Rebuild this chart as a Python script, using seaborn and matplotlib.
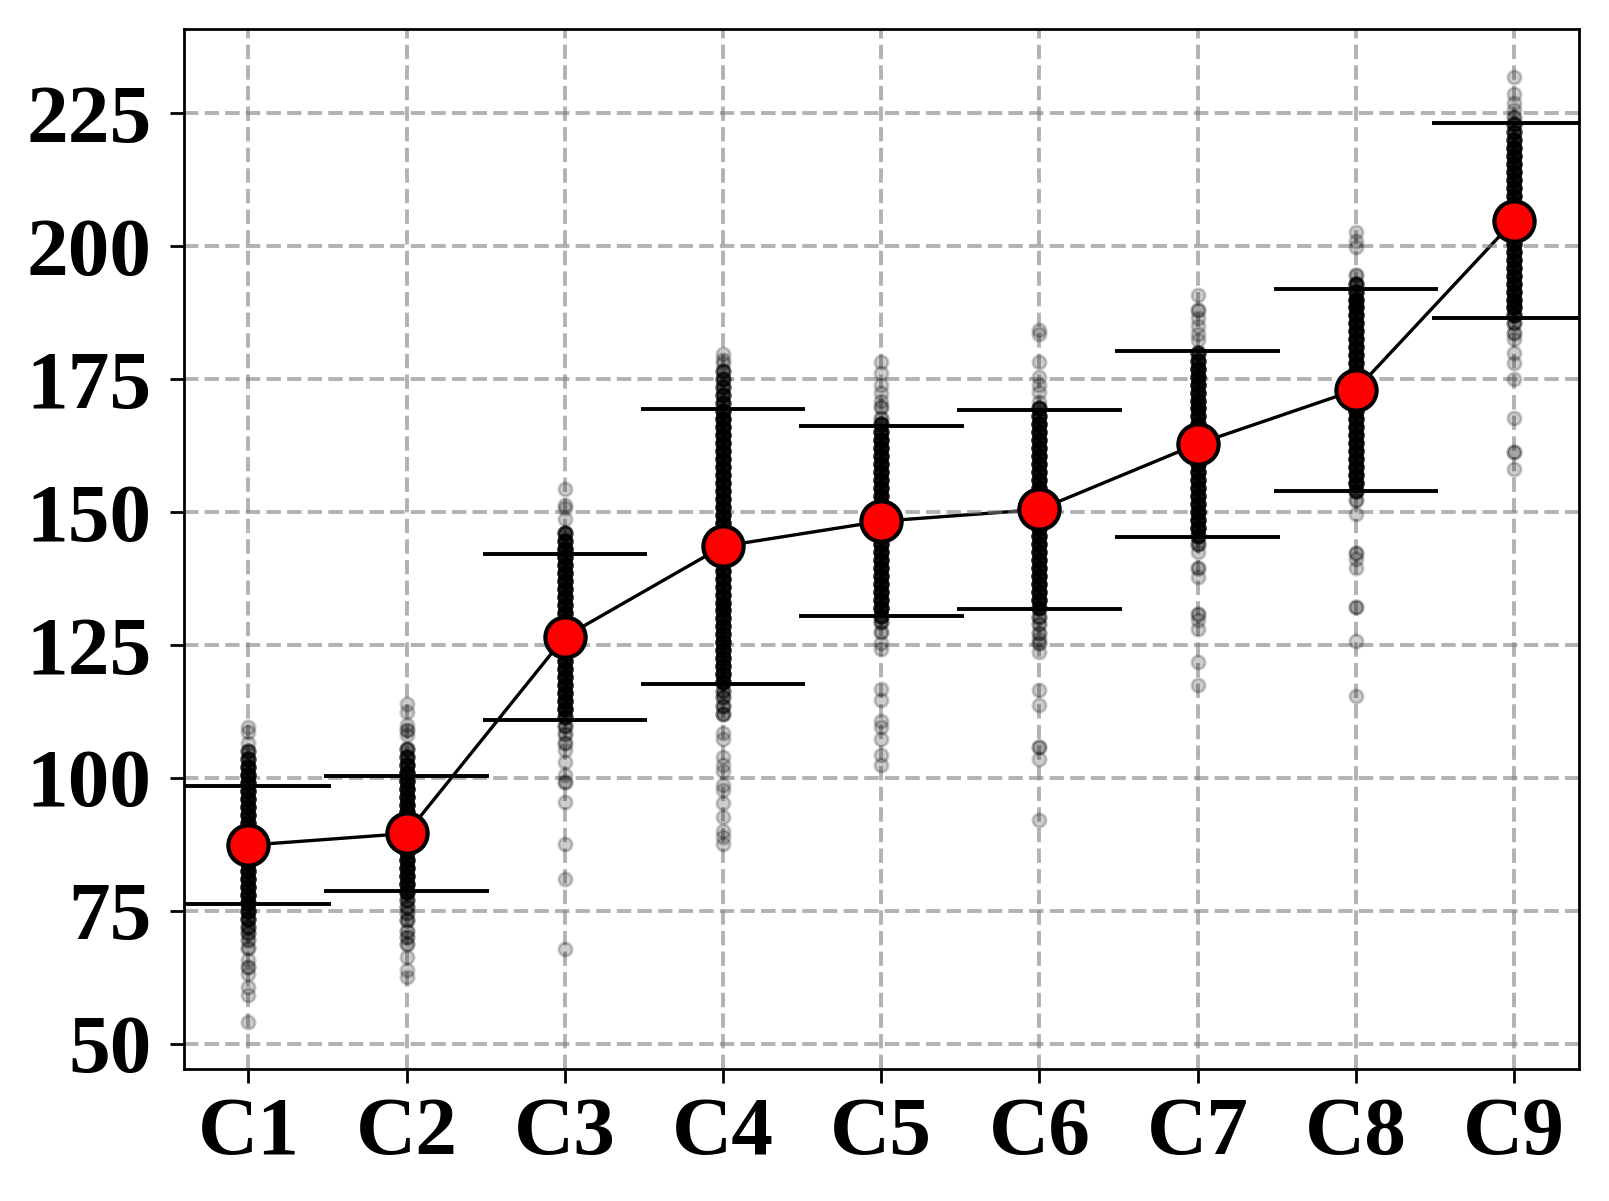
import numpy as np
import pandas as pd
import matplotlib
matplotlib.use("Agg")
import matplotlib.pyplot as plt
import seaborn as sns

# ---------------- data ----------------
categories = ["C1", "C2", "C3", "C4", "C5", "C6", "C7", "C8", "C9"]
means = [87.35, 89.55, 126.55, 143.6, 148.3, 150.5, 162.85, 173.0, 204.85]
stds = [11.05, 10.9, 15.65, 25.85, 17.85, 18.7, 17.5, 19.05, 18.3]
y_ticks = [50, 75, 100, 125, 150, 175, 200, 225]

# observed points per category: value and how many points sit at that value
c1_vals = [54.1, 59.1, 60.6, 63.2, 64.4, 65.7, 68.1, 69.5, 70.8,
           72.0, 73.5, 75.0, 76.5, 78.0, 79.5, 81.0, 82.5, 84.0, 85.5, 87.0, 88.5,
           90.0, 91.5, 93.0, 94.5, 96.0, 97.5, 99.0, 100.5, 102.0, 103.5, 105.0,
           106.5, 108.6, 109.6]
c1_counts = [1, 1, 1, 1, 2, 1, 2, 2, 3,
             4, 6, 8, 10, 10, 10, 10, 10, 10, 10, 10, 10,
             10, 10, 10, 10, 10, 10, 10, 10, 8, 6, 4,
             1, 1, 1]

c2_vals = [62.5, 63.8, 66.3, 68.8, 70.0, 71.3, 73.2, 74.5, 75.7, 77.0,
           78.5, 80.0, 81.5, 83.0, 84.5, 86.0, 87.5, 89.0, 90.5, 92.0, 93.5,
           95.0, 96.5, 98.0, 99.5, 101.0, 102.5, 104.0, 105.5,
           108.0, 109.0, 109.9, 112.4, 114.0]
c2_counts = [1, 1, 1, 2, 2, 2, 3, 2, 3, 4,
             8, 10, 10, 10, 10, 10, 10, 10, 10, 10, 10,
             10, 10, 10, 10, 10, 8, 6, 4,
             1, 2, 1, 1, 1]

c3_vals = [67.9, 80.9, 87.6, 95.5, 99.2, 100.5, 103.0, 105.2, 106.5, 108.3, 109.8,
           111.5, 113.0, 114.5, 116.0, 117.5, 119.0, 120.5, 122.0, 123.5, 125.0,
           126.5, 128.0, 129.5, 131.0, 132.5, 134.0, 135.5, 137.0, 138.5, 140.0,
           141.5, 143.0, 144.5, 146.0,
           148.8, 150.7, 151.3, 154.4]
c3_counts = [1, 1, 1, 1, 2, 1, 1, 1, 2, 2, 3,
             6, 10, 10, 10, 10, 10, 10, 10, 10, 10,
             10, 10, 10, 10, 10, 10, 10, 10, 10, 10,
             10, 10, 8, 6,
             1, 1, 1, 1]

c4_vals = [87.6, 88.8, 90.1, 92.6, 95.2, 97.7, 98.6, 101.4, 102.5, 103.9,
           107.4, 108.5, 112.1, 113.5, 115.2, 116.4,
           118.0, 119.5, 121.0, 122.5, 124.0, 125.5, 127.0, 128.5, 130.0, 131.5,
           133.0, 134.5, 136.0, 137.5, 139.0, 140.5, 142.0, 143.5, 145.0, 146.5,
           148.0, 149.5, 151.0, 152.5, 154.0, 155.5, 157.0, 158.5, 160.0, 161.5,
           163.0, 164.5, 166.0, 167.5, 169.0, 170.5, 172.0, 173.5, 175.0, 176.5,
           178.0, 178.6, 179.8]
c4_counts = [1, 1, 1, 1, 1, 1, 1, 1, 1, 1,
             1, 1, 3, 3, 3, 3,
             8, 10, 10, 10, 10, 10, 10, 10, 10, 10,
             10, 10, 10, 10, 10, 10, 10, 10, 10, 10,
             10, 10, 10, 10, 10, 10, 10, 10, 10, 10,
             10, 10, 10, 10, 8, 6, 6, 5, 5, 4,
             1, 1, 1]

c5_vals = [102.4, 104.3, 107.4, 109.6, 110.8, 114.6, 116.8, 124.3, 125.3, 127.5, 129.3,
           130.5, 132.0, 133.5, 135.0, 136.5, 138.0, 139.5, 141.0, 142.5, 144.0,
           145.5, 147.0, 148.5, 150.0, 151.5, 153.0, 154.5, 156.0, 157.5, 159.0,
           160.5, 162.0, 163.5, 165.0, 166.5,
           167.8, 169.8, 171.0, 172.5, 174.0, 176.1, 178.3]
c5_counts = [1, 1, 1, 1, 1, 1, 1, 1, 1, 2, 3,
             6, 10, 10, 10, 10, 10, 10, 10, 10, 10,
             10, 10, 10, 10, 10, 10, 10, 10, 10, 10,
             10, 10, 10, 8, 6,
             2, 2, 1, 1, 1, 1, 1]

c6_vals = [92.0, 103.6, 105.8, 113.7, 116.5, 123.7, 125.3, 126.2, 127.2, 129.0, 130.3,
           132.0, 133.5, 135.0, 136.5, 138.0, 139.5, 141.0, 142.5, 144.0, 145.5,
           147.0, 148.5, 150.0, 151.5, 153.0, 154.5, 156.0, 157.5, 159.0, 160.5,
           162.0, 163.5, 165.0, 166.5, 168.0, 169.5,
           170.7, 172.6, 174.0, 175.4, 178.3, 183.6, 184.2]
c6_counts = [1, 1, 2, 1, 1, 1, 2, 1, 2, 2, 3,
             6, 10, 10, 10, 10, 10, 10, 10, 10, 10,
             10, 10, 10, 10, 10, 10, 10, 10, 10, 10,
             10, 10, 10, 10, 8, 6,
             1, 1, 1, 1, 1, 1, 1]

c7_vals = [117.4, 121.8, 128.1, 129.7, 130.9, 137.8, 139.4, 142.5, 144.1,
           145.5, 147.0, 148.5, 150.0, 151.5, 153.0, 154.5, 156.0, 157.5, 159.0,
           160.5, 162.0, 163.5, 165.0, 166.5, 168.0, 169.5, 171.0, 172.5, 174.0,
           175.5, 177.0, 178.5, 180.0,
           182.4, 183.5, 185.0, 186.5, 188.0, 190.8]
c7_counts = [1, 1, 1, 1, 2, 1, 2, 1, 3,
             6, 10, 10, 10, 10, 10, 10, 10, 10, 10,
             10, 10, 10, 10, 10, 10, 10, 10, 10, 10,
             10, 10, 8, 6,
             1, 1, 1, 1, 2, 1]

c8_vals = [115.5, 125.7, 132.2, 139.5, 141.2, 142.4, 149.7, 152.2,
           154.0, 155.5, 157.0, 158.5, 160.0, 161.5, 163.0, 164.5, 166.0, 167.5,
           169.0, 170.5, 172.0, 173.5, 175.0, 176.5, 178.0, 179.5, 181.0, 182.5,
           184.0, 185.5, 187.0, 188.5, 190.0, 191.5, 193.0,
           194.6, 199.9, 201.1, 202.7]
c8_counts = [1, 1, 2, 1, 1, 2, 1, 2,
             6, 10, 10, 10, 10, 10, 10, 10, 10, 10,
             10, 10, 10, 10, 10, 10, 10, 10, 10, 10,
             10, 10, 10, 10, 10, 8, 6,
             2, 1, 1, 1]

c9_vals = [158.1, 161.25, 167.8, 175.0, 178.1, 180.0, 182.5, 183.75, 185.5,
           187.0, 188.5, 190.0, 191.5, 193.0, 194.5, 196.0, 197.5, 199.0, 200.5,
           202.0, 203.5, 205.0, 206.5, 208.0, 209.5, 211.0, 212.5, 214.0, 215.5,
           217.0, 218.5, 220.0, 221.5, 223.0,
           224.4, 225.6, 226.9, 228.75, 231.9]
c9_counts = [1, 2, 1, 1, 1, 1, 1, 2, 3,
             6, 10, 10, 10, 10, 10, 10, 10, 10, 10,
             10, 10, 10, 10, 10, 10, 10, 10, 10, 10,
             10, 10, 8, 6, 5,
             2, 1, 1, 1, 1]

all_vals = [c1_vals, c2_vals, c3_vals, c4_vals, c5_vals, c6_vals, c7_vals, c8_vals, c9_vals]
all_counts = [c1_counts, c2_counts, c3_counts, c4_counts, c5_counts, c6_counts,
              c7_counts, c8_counts, c9_counts]

# ---------------- build tables ----------------
rows = []
for cat, vals, cnts in zip(categories, all_vals, all_counts):
    assert len(vals) == len(cnts), cat
    for v, c in zip(vals, cnts):
        rows.extend([(cat, v)] * c)
points = pd.DataFrame(rows, columns=["category", "value"])

summary = pd.DataFrame({"category": categories, "mean": means, "sd": stds})
summary["pos"] = np.arange(len(categories))
summary["upper"] = summary["mean"] + summary["sd"]
summary["lower"] = summary["mean"] - summary["sd"]

# ---------------- style ----------------
sns.set_style("ticks", {"axes.edgecolor": "black", "xtick.color": "black",
                        "ytick.color": "black", "text.color": "black"})
plt.rcParams["font.family"] = ["Liberation Serif", "DejaVu Serif"]
plt.rcParams["font.weight"] = "bold"

fig = plt.figure(figsize=(1609 / 200, 1201 / 200), dpi=200)
ax = fig.add_axes([0.11405, 0.1097, 0.8673, 0.8662])

sns.stripplot(data=points, x="category", y="value", order=categories, jitter=False,
              color="black", edgecolor="black", linewidth=1.0, size=4.8, alpha=0.2,
              ax=ax, zorder=2)

sns.lineplot(data=summary, x="pos", y="mean", color="black", linewidth=1.2,
             ax=ax, zorder=1, legend=False)

ax.hlines(summary["upper"], summary["pos"] - 0.52, summary["pos"] + 0.52,
          color="black", linewidth=1.4, zorder=3)
ax.hlines(summary["lower"], summary["pos"] - 0.52, summary["pos"] + 0.52,
          color="black", linewidth=1.4, zorder=3)

sns.scatterplot(data=summary, x="pos", y="mean", s=210, color="red",
                edgecolor="black", linewidth=1.5, ax=ax, zorder=4, legend=False)

ax.set_xlim(-0.41, 8.41)
ax.set_ylim(45.2, 240.9)
ax.set_xticks(np.arange(len(categories)))
ax.set_xticklabels(categories)
ax.set_yticks(y_ticks)
ax.set_yticklabels([str(t) for t in y_ticks])
ax.set_xlabel("")
ax.set_ylabel("")

ax.set_axisbelow("line")
ax.grid(True, linestyle="--", color="gray", alpha=0.6, linewidth=1.4)

for side in ["left", "right", "top", "bottom"]:
    ax.spines[side].set_visible(True)
    ax.spines[side].set_color("black")
    ax.spines[side].set_linewidth(1.0)

ax.tick_params(axis="both", length=5, width=1.0, color="black", labelcolor="black")
ax.tick_params(axis="y", pad=6.5)
ax.tick_params(axis="x", pad=5)
for lbl in ax.get_xticklabels() + ax.get_yticklabels():
    lbl.set_fontsize(30)
    lbl.set_fontweight("bold")
    lbl.set_family(["Liberation Serif", "DejaVu Serif"])

fig.savefig("out.png", dpi=200)
